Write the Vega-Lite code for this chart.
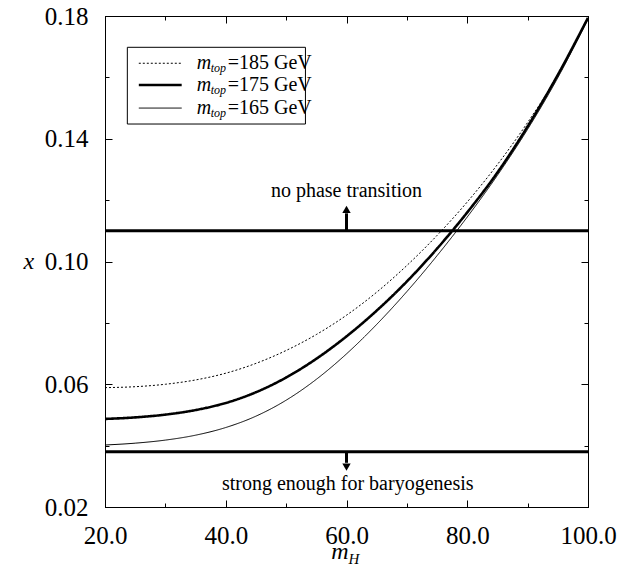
{
  "$schema": "https://vega.github.io/schema/vega-lite/v6.json",
  "width": 483,
  "height": 491,
  "autosize": {"type": "none"},
  "padding": {"left": 105, "top": 16, "right": 31, "bottom": 73},
  "background": "white",
  "config": {
    "view": {"stroke": "black", "strokeWidth": 1},
    "axis": {
      "domainColor": "black", "tickColor": "black", "labelColor": "black", "titleColor": "black",
      "labelFont": "Liberation Serif", "titleFont": "Liberation Serif", "labelFontSize": 25,
      "grid": false, "tickWidth": 1, "domainWidth": 1, "tickSize": -4, "ticks": true
    }
  },
  "resolve": {"axis": {"x": "independent", "y": "independent"}, "scale": {"x": "shared", "y": "shared"}},
  "datasets": {
    "curves": [
      {"mH": 20, "x": 0.0589, "mtop": "185"}, {"mH": 25, "x": 0.0592, "mtop": "185"}, {"mH": 30, "x": 0.0600, "mtop": "185"},
      {"mH": 35, "x": 0.0614, "mtop": "185"}, {"mH": 40, "x": 0.0636, "mtop": "185"}, {"mH": 45, "x": 0.0668, "mtop": "185"},
      {"mH": 50, "x": 0.0710, "mtop": "185"}, {"mH": 55, "x": 0.0762, "mtop": "185"}, {"mH": 60, "x": 0.0825, "mtop": "185"},
      {"mH": 65, "x": 0.0900, "mtop": "185"}, {"mH": 70, "x": 0.0987, "mtop": "185"}, {"mH": 75, "x": 0.1085, "mtop": "185"},
      {"mH": 80, "x": 0.1194, "mtop": "185"}, {"mH": 85, "x": 0.1316, "mtop": "185"}, {"mH": 90, "x": 0.1453, "mtop": "185"},
      {"mH": 95, "x": 0.1607, "mtop": "185"}, {"mH": 100, "x": 0.1792, "mtop": "185"},
      {"mH": 20, "x": 0.0487, "mtop": "175"}, {"mH": 25, "x": 0.0492, "mtop": "175"}, {"mH": 30, "x": 0.0501, "mtop": "175"},
      {"mH": 35, "x": 0.0516, "mtop": "175"}, {"mH": 40, "x": 0.0539, "mtop": "175"}, {"mH": 45, "x": 0.0574, "mtop": "175"},
      {"mH": 50, "x": 0.0622, "mtop": "175"}, {"mH": 55, "x": 0.0683, "mtop": "175"}, {"mH": 60, "x": 0.0756, "mtop": "175"},
      {"mH": 65, "x": 0.0840, "mtop": "175"}, {"mH": 70, "x": 0.0935, "mtop": "175"}, {"mH": 75, "x": 0.1042, "mtop": "175"},
      {"mH": 80, "x": 0.1160, "mtop": "175"}, {"mH": 85, "x": 0.1290, "mtop": "175"}, {"mH": 90, "x": 0.1440, "mtop": "175"},
      {"mH": 95, "x": 0.1608, "mtop": "175"}, {"mH": 100, "x": 0.1794, "mtop": "175"},
      {"mH": 20, "x": 0.0402, "mtop": "165"}, {"mH": 25, "x": 0.0408, "mtop": "165"}, {"mH": 30, "x": 0.0418, "mtop": "165"},
      {"mH": 35, "x": 0.0434, "mtop": "165"}, {"mH": 40, "x": 0.0459, "mtop": "165"}, {"mH": 45, "x": 0.0496, "mtop": "165"},
      {"mH": 50, "x": 0.0548, "mtop": "165"}, {"mH": 55, "x": 0.0616, "mtop": "165"}, {"mH": 60, "x": 0.0699, "mtop": "165"},
      {"mH": 65, "x": 0.0795, "mtop": "165"}, {"mH": 70, "x": 0.0902, "mtop": "165"}, {"mH": 75, "x": 0.1019, "mtop": "165"},
      {"mH": 80, "x": 0.1145, "mtop": "165"}, {"mH": 85, "x": 0.1281, "mtop": "165"}, {"mH": 90, "x": 0.1431, "mtop": "165"},
      {"mH": 95, "x": 0.1599, "mtop": "165"}, {"mH": 100, "x": 0.1790, "mtop": "165"}
    ],
    "levels": [{"x": 0.11}, {"x": 0.038}],
    "arrows": [
      {"mH": 60, "from": 0.11, "to": 0.1157, "head": 0.1170, "shape": "triangle-up"},
      {"mH": 60, "from": 0.038, "to": 0.0344, "head": 0.0330, "shape": "triangle-down"}
    ],
    "notes": [
      {"mH": 60, "x": 0.1211, "text": "no phase transition"},
      {"mH": 60.2, "x": 0.0256, "text": "strong enough for baryogenesis"}
    ],
    "legendBox": [{"x1": 23.7, "x2": 53.2, "y1": 0.1698, "y2": 0.1448}],
    "legendRows": [
      {"mtop": "185", "x1": 25.6, "x2": 32.7, "xt": 35.2, "y": 0.1646, "label": "=185 GeV"},
      {"mtop": "175", "x1": 25.6, "x2": 32.7, "xt": 35.2, "y": 0.1575, "label": "=175 GeV"},
      {"mtop": "165", "x1": 25.6, "x2": 32.7, "xt": 35.2, "y": 0.1500, "label": "=165 GeV"}
    ],
    "xtitle": [{"mH": 60, "x": 0.02}]
  },
  "layer": [
    {
      "data": {"name": "curves"},
      "mark": {"type": "line", "interpolate": "monotone", "color": "black"},
      "encoding": {
        "x": {"field": "mH", "type": "quantitative", "scale": {"domain": [20, 100], "nice": false, "zero": false},
          "axis": {"orient": "bottom", "title": null, "values": [20, 30, 40, 50, 60, 70, 80, 90, 100],
            "labelExpr": "datum.value % 20 == 0 ? format(datum.value, '.1f') : ''",
            "tickSize": -4, "labelPadding": 20, "labelFlush": false, "labelOverlap": false}},
        "y": {"field": "x", "type": "quantitative", "scale": {"domain": [0.02, 0.18], "nice": false, "zero": false},
          "axis": {"orient": "left", "title": "x", "titleFontStyle": "italic", "titleFontSize": 24, "titleFontWeight": "normal",
            "titleAngle": 0, "titleBaseline": "middle", "titlePadding": 16,
            "values": [0.02, 0.04, 0.06, 0.08, 0.10, 0.12, 0.14, 0.16, 0.18],
            "labelExpr": "round(datum.value * 100) % 4 == 2 ? format(datum.value, '.2f') : ''",
            "tickSize": -4, "labelPadding": 21, "labelFlush": false, "labelOverlap": false}},
        "detail": {"field": "mtop"},
        "strokeDash": {"condition": {"test": "datum.mtop == '185'", "value": [2, 2]}, "value": [1, 0]},
        "strokeWidth": {"condition": {"test": "datum.mtop == '175'", "value": 2.6}, "value": 1}
      }
    },
    {
      "data": {"name": "levels"},
      "mark": {"type": "rule", "color": "black", "strokeWidth": 3},
      "encoding": {
        "y": {"field": "x", "type": "quantitative",
          "axis": {"orient": "right", "title": null, "labels": false, "tickSize": -4,
            "values": [0.02, 0.04, 0.06, 0.08, 0.10, 0.12, 0.14, 0.16, 0.18]}}
      }
    },
    {
      "data": {"name": "arrows"},
      "mark": {"type": "rule", "color": "black", "strokeWidth": 3},
      "encoding": {
        "x": {"field": "mH", "type": "quantitative",
          "axis": {"orient": "top", "title": null, "labels": false, "tickSize": -4,
            "values": [20, 30, 40, 50, 60, 70, 80, 90, 100]}},
        "y": {"field": "from", "type": "quantitative",
          "axis": {"orient": "left", "title": null, "labels": false, "domain": false, "tickSize": -7,
            "values": [0.02, 0.06, 0.10, 0.14, 0.18]}},
        "y2": {"field": "to"}
      }
    },
    {
      "data": {"name": "arrows"},
      "mark": {"type": "point", "filled": true, "color": "black", "opacity": 1, "size": 70},
      "encoding": {
        "x": {"field": "mH", "type": "quantitative",
          "axis": {"orient": "bottom", "title": null, "labels": false, "domain": false, "tickSize": -7,
            "values": [20, 40, 60, 80, 100]}},
        "y": {"field": "head", "type": "quantitative",
          "axis": {"orient": "right", "title": null, "labels": false, "domain": false, "tickSize": -7,
            "values": [0.02, 0.06, 0.10, 0.14, 0.18]}},
        "shape": {"field": "shape", "type": "nominal", "scale": null}
      }
    },
    {
      "data": {"name": "notes"},
      "mark": {"type": "text", "font": "Liberation Serif", "fontSize": 20, "color": "black", "align": "center", "baseline": "alphabetic"},
      "encoding": {
        "x": {"field": "mH", "type": "quantitative",
          "axis": {"orient": "top", "title": null, "labels": false, "domain": false, "tickSize": -7,
            "values": [20, 40, 60, 80, 100]}},
        "y": {"field": "x", "type": "quantitative", "axis": null},
        "text": {"field": "text"}
      }
    },
    {
      "data": {"name": "legendBox"},
      "mark": {"type": "rect", "fill": "white", "stroke": "black", "strokeWidth": 1},
      "encoding": {
        "x": {"field": "x1", "type": "quantitative", "axis": null}, "x2": {"field": "x2"},
        "y": {"field": "y1", "type": "quantitative", "axis": null}, "y2": {"field": "y2"}
      }
    },
    {
      "data": {"name": "legendRows"},
      "mark": {"type": "rule", "color": "black"},
      "encoding": {
        "x": {"field": "x1", "type": "quantitative", "axis": null}, "x2": {"field": "x2"},
        "y": {"field": "y", "type": "quantitative", "axis": null},
        "strokeDash": {"condition": {"test": "datum.mtop == '185'", "value": [2, 2]}, "value": [1, 0]},
        "strokeWidth": {"condition": {"test": "datum.mtop == '175'", "value": 2.6}, "value": 1}
      }
    },
    {
      "data": {"name": "legendRows"},
      "mark": {"type": "text", "text": "m", "font": "Liberation Serif", "fontStyle": "italic", "fontSize": 20, "color": "black", "align": "left", "baseline": "alphabetic", "dy": 6},
      "encoding": {
        "x": {"field": "xt", "type": "quantitative", "axis": null},
        "y": {"field": "y", "type": "quantitative", "axis": null}
      }
    },
    {
      "data": {"name": "legendRows"},
      "mark": {"type": "text", "text": "top", "font": "Liberation Serif", "fontStyle": "italic", "fontSize": 12, "color": "black", "align": "left", "baseline": "alphabetic", "dx": 14, "dy": 9},
      "encoding": {
        "x": {"field": "xt", "type": "quantitative", "axis": null},
        "y": {"field": "y", "type": "quantitative", "axis": null}
      }
    },
    {
      "data": {"name": "legendRows"},
      "mark": {"type": "text", "font": "Liberation Serif", "fontSize": 20, "color": "black", "align": "left", "baseline": "alphabetic", "dx": 31, "dy": 6},
      "encoding": {
        "x": {"field": "xt", "type": "quantitative", "axis": null},
        "y": {"field": "y", "type": "quantitative", "axis": null},
        "text": {"field": "label"}
      }
    },
    {
      "data": {"name": "xtitle"},
      "mark": {"type": "text", "text": "m", "font": "Liberation Serif", "fontStyle": "italic", "fontSize": 24, "color": "black", "align": "right", "baseline": "alphabetic", "dx": 2, "dy": 52},
      "encoding": {
        "x": {"field": "mH", "type": "quantitative", "axis": null},
        "y": {"field": "x", "type": "quantitative", "axis": null}
      }
    },
    {
      "data": {"name": "xtitle"},
      "mark": {"type": "text", "text": "H", "font": "Liberation Serif", "fontStyle": "italic", "fontSize": 15, "color": "black", "align": "left", "baseline": "alphabetic", "dx": 2, "dy": 57},
      "encoding": {
        "x": {"field": "mH", "type": "quantitative", "axis": null},
        "y": {"field": "x", "type": "quantitative", "axis": null}
      }
    }
  ]
}
